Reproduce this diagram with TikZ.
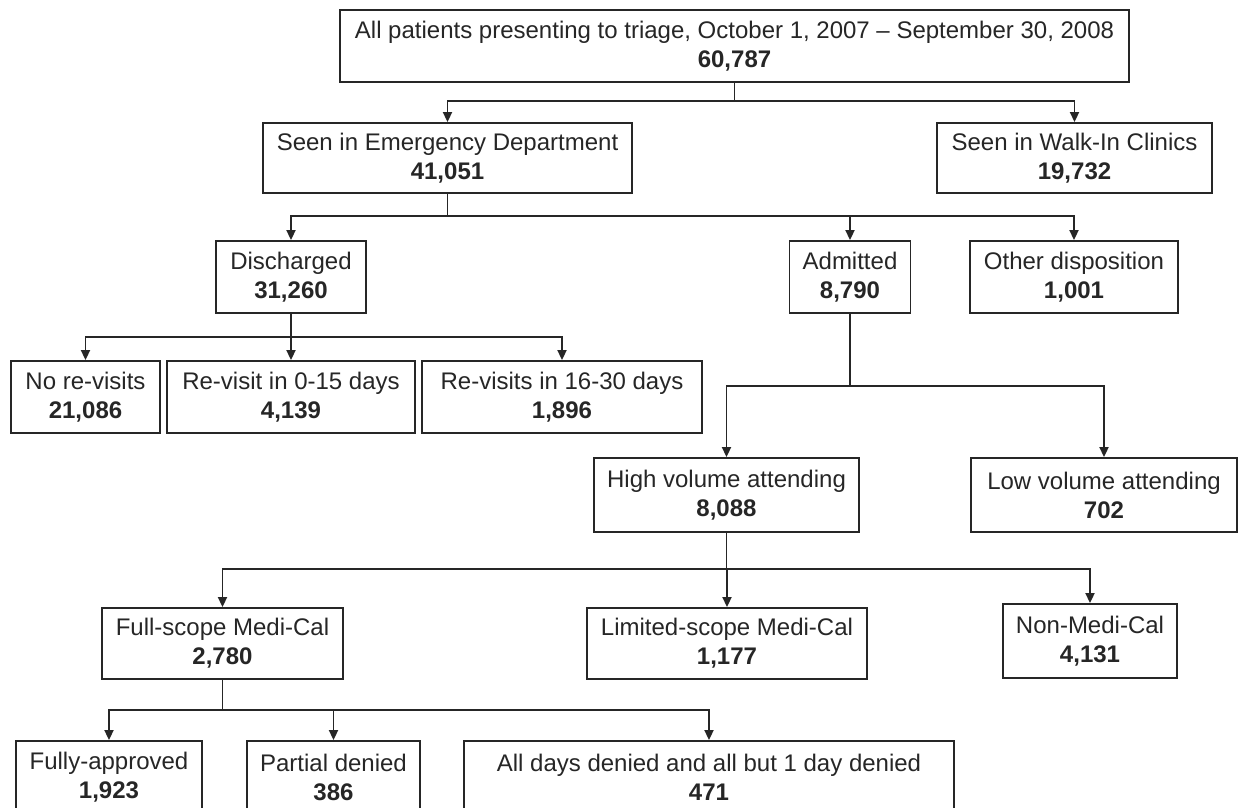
\documentclass[tikz,border=0pt]{standalone}
\usepackage{fontspec}
\setmainfont{Liberation Sans}
\usetikzlibrary{arrows.meta}
\tikzset{
  x=1pt, y=-1pt,
  box/.style={draw=black!85, line width=1.9pt, inner sep=0pt, align=center,
    font=\fontsize{24}{29}\selectfont, text=black!85},
  conn/.style={draw=black!85, line width=1.9pt},
  arr/.style={conn, -{Triangle[length=10pt,width=9pt]}}
}
\begin{document}
\begin{tikzpicture}
\useasboundingbox[fill=white] (0,0) rectangle (1239,807);
% row 1
\node[box, minimum width=789pt, minimum height=72pt] (top) at (734.5,46) {All patients presenting to triage, October 1, 2007 – September 30, 2008\\\textbf{60,787}};
% row 2
\node[box, minimum width=369pt, minimum height=70pt] (ed) at (447.5,158) {Seen in Emergency Department\\\textbf{41,051}};
\node[box, minimum width=275pt, minimum height=70pt] (walk) at (1074.5,158) {Seen in Walk-In Clinics\\\textbf{19,732}};
% row 3
\node[box, minimum width=150pt, minimum height=72pt] (dis) at (291,277) {Discharged\\\textbf{31,260}};
\node[box, minimum width=121pt, minimum height=72pt] (adm) at (850,277) {Admitted\\\textbf{8,790}};
\node[box, minimum width=208pt, minimum height=72pt] (oth) at (1074,277) {Other disposition\\\textbf{1,001}};
% row 4
\node[box, minimum width=149pt, minimum height=72pt] (norv) at (85.5,397) {No re-visits\\\textbf{21,086}};
\node[box, minimum width=248pt, minimum height=72pt] (rv15) at (291,397) {Re-visit in 0-15 days\\\textbf{4,139}};
\node[box, minimum width=280pt, minimum height=72pt] (rv30) at (562,397) {Re-visits in 16-30 days\\\textbf{1,896}};
% row 5
\node[box, minimum width=265pt, minimum height=74pt] (high) at (726.5,495) {High volume attending\\\textbf{8,088}};
\node[box, minimum width=266pt, minimum height=74pt] (low) at (1104,495) {Low volume attending\\\textbf{702}};
% row 6
\node[box, minimum width=241pt, minimum height=71pt] (full) at (222.5,643.5) {Full-scope Medi-Cal\\\textbf{2,780}};
\node[box, minimum width=280pt, minimum height=71pt] (lim) at (727,643.5) {Limited-scope Medi-Cal\\\textbf{1,177}};
\node[box, minimum width=174pt, minimum height=74pt] (non) at (1090,641) {Non-Medi-Cal\\\textbf{4,131}};
% row 7
\node[box, minimum width=186pt, minimum height=72pt] (fa) at (109,777) {Fully-approved\\\textbf{1,923}};
\node[box, minimum width=173pt, minimum height=72pt] (pd) at (333.5,777) {Partial denied\\\textbf{386}};
\node[box, minimum width=490pt, minimum height=72pt] (ad) at (709,777) {All days denied and all but 1 day denied\\\textbf{471}};
% connectors
\draw[conn] (top.south) -- (top.south |- 0,101) coordinate (j1);
\draw[arr] (j1) -| (ed.north);
\draw[arr] (j1) -| (walk.north);
\draw[conn] (ed.south) -- (ed.south |- 0,216) coordinate (j2);
\draw[arr] (j2) -| (dis.north);
\draw[arr] (j2) -| (adm.north);
\draw[arr] (j2) -| (oth.north);
\draw[conn] (dis.south) -- (dis.south |- 0,337) coordinate (j3);
\draw[arr] (j3) -| (norv.north);
\draw[arr] (j3) -- (rv15.north);
\draw[arr] (j3) -| (rv30.north);
\draw[conn] (adm.south) -- (adm.south |- 0,386) coordinate (j4);
\draw[arr] (j4) -| (high.north);
\draw[arr] (j4) -| (low.north);
\draw[conn] (high.south) -- (high.south |- 0,569) coordinate (j5);
\draw[arr] (j5) -| (full.north);
\draw[arr] (j5) -| (lim.north);
\draw[arr] (j5) -| (non.north);
\draw[conn] (full.south) -- (full.south |- 0,710) coordinate (j6);
\draw[arr] (j6) -| (fa.north);
\draw[arr] (j6) -| (pd.north);
\draw[arr] (j6) -| (ad.north);
\end{tikzpicture}
\end{document}
